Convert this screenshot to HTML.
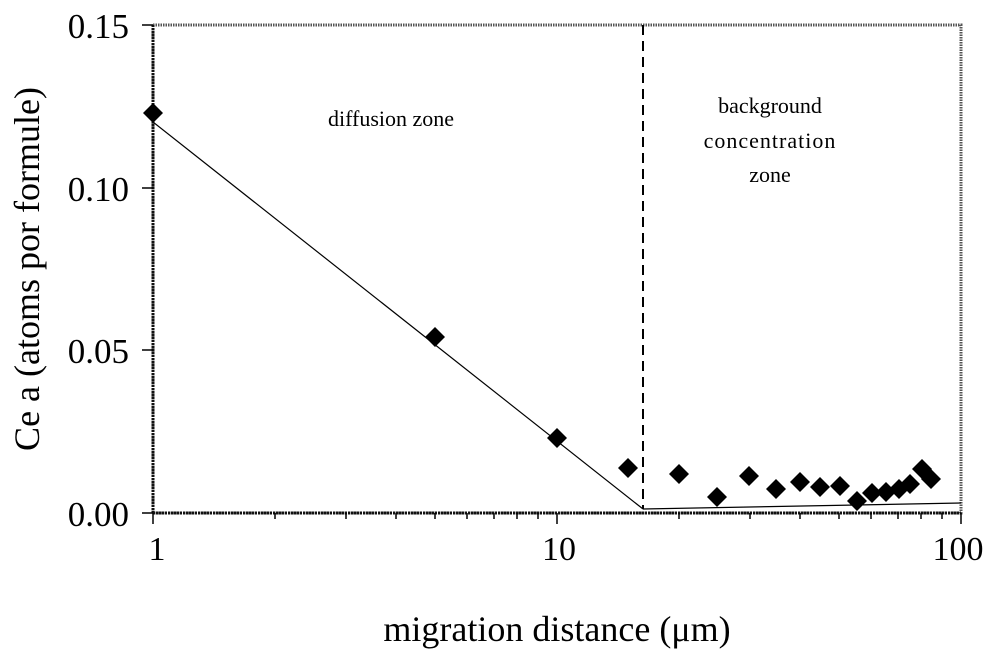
<!DOCTYPE html>
<html><head><meta charset="utf-8"><style>body{margin:0;background:#fff}</style></head><body>
<svg width="1000" height="663" viewBox="0 0 1000 663" xmlns="http://www.w3.org/2000/svg" font-family="Liberation Serif, serif">
<defs><symbol id="d" viewBox="-10 -10 20 20" overflow="visible"><path d="M0,-10 L10,0 L0,10 L-10,0Z" fill="#000"/></symbol></defs>
<rect x="153" y="25" width="808" height="488" fill="none" stroke="#555" stroke-width="3" stroke-dasharray="1.5 1"/>
<line x1="153" y1="513" x2="961" y2="513" stroke="#111" stroke-width="3" stroke-dasharray="2 1"/>
<line x1="153" y1="25" x2="153" y2="513" stroke="#111" stroke-width="3" stroke-dasharray="2 1"/>
<g stroke="#000" stroke-width="1.5">
<line x1="142" y1="25" x2="153" y2="25"/><line x1="142" y1="188" x2="153" y2="188"/><line x1="142" y1="350" x2="153" y2="350"/><line x1="142" y1="513" x2="153" y2="513"/>
<line x1="153" y1="513" x2="153" y2="524"/><line x1="557" y1="513" x2="557" y2="524"/><line x1="961" y1="513" x2="961" y2="524"/>
<line x1="275" y1="513" x2="275" y2="519"/><line x1="346" y1="513" x2="346" y2="519"/><line x1="396" y1="513" x2="396" y2="519"/><line x1="435" y1="513" x2="435" y2="519"/><line x1="467" y1="513" x2="467" y2="519"/><line x1="494" y1="513" x2="494" y2="519"/><line x1="517" y1="513" x2="517" y2="519"/><line x1="538" y1="513" x2="538" y2="519"/>
<line x1="679" y1="513" x2="679" y2="519"/><line x1="750" y1="513" x2="750" y2="519"/><line x1="800" y1="513" x2="800" y2="519"/><line x1="839" y1="513" x2="839" y2="519"/><line x1="871" y1="513" x2="871" y2="519"/><line x1="898" y1="513" x2="898" y2="519"/><line x1="921" y1="513" x2="921" y2="519"/><line x1="942" y1="513" x2="942" y2="519"/>
</g>
<line x1="153" y1="122" x2="643" y2="509" stroke="#000" stroke-width="1.2"/>
<line x1="643" y1="509" x2="961" y2="503" stroke="#000" stroke-width="1.2"/>
<line x1="643" y1="25" x2="643" y2="509" stroke="#000" stroke-width="2" stroke-dasharray="10 6"/>
<g>
<use href="#d" x="143" y="103" width="20" height="20"/>
<use href="#d" x="425" y="327" width="20" height="20"/>
<use href="#d" x="547" y="428" width="20" height="20"/>
<use href="#d" x="618" y="458" width="20" height="20"/>
<use href="#d" x="669" y="464" width="20" height="20"/>
<use href="#d" x="707" y="487" width="20" height="20"/>
<use href="#d" x="739" y="466" width="20" height="20"/>
<use href="#d" x="766" y="479" width="20" height="20"/>
<use href="#d" x="790" y="472" width="20" height="20"/>
<use href="#d" x="810" y="477" width="20" height="20"/>
<use href="#d" x="830" y="476" width="20" height="20"/>
<use href="#d" x="847" y="491" width="20" height="20"/>
<use href="#d" x="862" y="483" width="20" height="20"/>
<use href="#d" x="876" y="482" width="20" height="20"/>
<use href="#d" x="889" y="479" width="20" height="20"/>
<use href="#d" x="900" y="474" width="20" height="20"/>
<use href="#d" x="912" y="459" width="20" height="20"/>
<use href="#d" x="921" y="469" width="20" height="20"/>
</g>
<g font-size="35" fill="#000" text-anchor="end">
<text x="129" y="38">0.15</text><text x="129" y="201">0.10</text><text x="129" y="363">0.05</text><text x="129" y="526">0.00</text>
</g>
<g font-size="34" fill="#000" text-anchor="middle">
<text x="157" y="560">1</text><text x="559" y="560">10</text><text x="958" y="560">100</text>
<text x="557" y="641" font-size="36">migration distance (μm)</text>
<text transform="translate(39,269) rotate(-90)" font-size="36">Ce a (atoms por formule)</text>
</g>
<g font-size="22" fill="#000" text-anchor="middle">
<text x="391" y="126">diffusion zone</text>
<text x="770" y="113">background</text><text x="770" y="148" letter-spacing="1">concentration</text><text x="770" y="182">zone</text>
</g>
</svg>
</body></html>
